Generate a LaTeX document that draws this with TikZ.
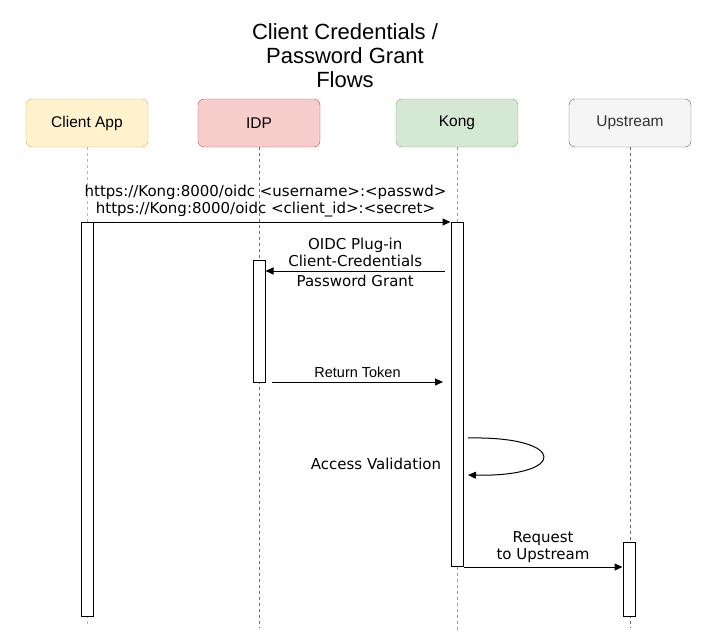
\documentclass[tikz,border=0pt]{standalone}
\usepackage{fontspec}
\setmainfont{Liberation Sans}
\newfontfamily\verd{DejaVu Sans}
\usetikzlibrary{arrows.meta,positioning,calc}
\definecolor{appfill}{HTML}{FFF2CC}\definecolor{appline}{HTML}{D6B656}
\definecolor{idpfill}{HTML}{F8CECC}\definecolor{idpline}{HTML}{B85450}
\definecolor{kongfill}{HTML}{D5E8D4}\definecolor{kongline}{HTML}{82B366}
\definecolor{upfill}{HTML}{F5F5F5}\definecolor{upline}{HTML}{666666}
\tikzset{
  actor/.style = {draw, rounded corners=6pt, minimum width=122pt, minimum height=48pt, font=\fontsize{15.5}{18}\selectfont},
  life/.style = {dashed, dash pattern=on 3pt off 3pt, line width=.6pt},
  bar/.style = {draw, fill=white, line width=1pt, minimum width=12pt, anchor=north, inner sep=0pt},
  msg/.style = {line width=1pt, -{Triangle[length=8pt,width=7pt]}},
  lbl/.style = {font=\verd\fontsize{15}{17}\selectfont, align=center, inner sep=1pt},
  lblh/.style = {font=\fontsize{14.5}{17}\selectfont, align=center, inner sep=1pt}
}
\begin{document}
\begin{tikzpicture}[x = 1pt, y = -1pt]
\useasboundingbox (0,0) rectangle (713,643);
\node[align=center, font=\fontsize{22}{24}\selectfont] (title) at (345,56) {Client Credentials /\\Password Grant\\Flows};
% participants
\node[actor, fill=appfill, draw=appline] (app) at (87,123) {Client App};
\node[actor, fill=idpfill, draw=idpline] (idp) at (259,123) {IDP};
\node[actor, fill=kongfill, draw=kongline] (kong) at (457,123) {Kong};
\node[actor, fill=upfill, draw=upline, text=black!80] (up) at (630,123) {Upstream};
% lifelines
\coordinate (append) at (87,627);
\coordinate (idpend) at (259,628);
\coordinate (kongend) at (457,632);
\coordinate (upend) at (630,628);
\draw[life, appline] (app) -- (append);
\draw[life, idpline] (idp) -- (idpend);
\draw[life, kongline] (kong) -- (kongend);
\draw[life, upline] (up) -- (upend);
% activation bars
\node[bar, minimum height=394pt] (appbar) at (87,222) {};
\node[bar, minimum height=344pt] (kongbar) at (457,222) {};
\node[bar, minimum height=122pt] (idpbar) at (259,260) {};
\node[bar, minimum height=74pt] (upbar) at (629,542) {};
% messages
\draw[msg] (appbar.north west) -- node[lbl, above=3pt] {https://Kong:8000/oidc <username>:<passwd>\\https://Kong:8000/oidc <client\_id>:<secret>} (kongbar.north west);
\coordinate (plugstart) at (445,271);
\coordinate (plugend) at (idpbar.east |- plugstart);
\draw[msg] (plugstart) -- node[lbl, above=3pt] {OIDC Plug-in\\Client-Credentials} node[lbl, below=3pt] {Password Grant} (plugend);
\coordinate (tokstart) at (272,382);
\coordinate (tokend) at (443,382);
\draw[msg] (tokstart) -- node[lblh, above=3pt] {Return Token} (tokend);
\coordinate (valstart) at (468,438);
\coordinate (valend) at (468,475);
\draw[msg] (valstart) .. controls (568,436) and (568,477) .. (valend);
\node[lbl] (val) at (376,464) {Access Validation};
\coordinate (reqstart) at (kongbar.south east);
\coordinate (reqend) at (upbar.west |- reqstart);
\draw[msg] (reqstart) -- node[lbl, above=3pt] {Request\\to Upstream} (reqend);
\end{tikzpicture}
\end{document}
